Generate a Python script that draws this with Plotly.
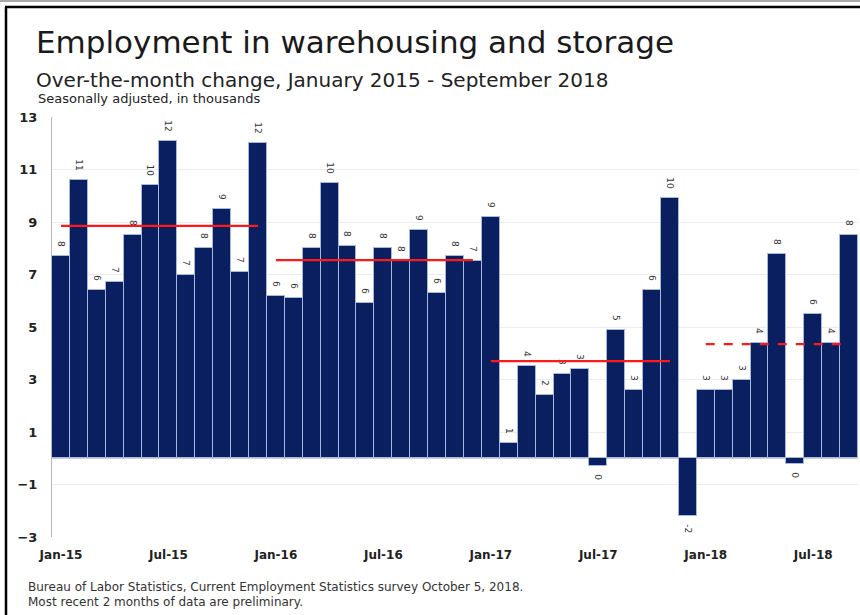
import plotly.graph_objects as go

months = [f"{m}-{y}" for y in ["15", "16", "17", "18"]
          for m in ["Jan", "Feb", "Mar", "Apr", "May", "Jun", "Jul", "Aug", "Sep", "Oct", "Nov", "Dec"]][:45]

values = [7.7, 10.6, 6.4, 6.7, 8.5, 10.4, 12.1, 7.0, 8.0, 9.5, 7.1, 12.0,
          6.2, 6.1, 8.0, 10.5, 8.1, 5.9, 8.0, 7.5, 8.7, 6.3, 7.7, 7.5,
          9.2, 0.6, 3.5, 2.4, 3.2, 3.4, -0.3, 4.9, 2.6, 6.4, 9.9, -2.2,
          2.6, 2.6, 3.0, 4.4, 7.8, -0.2, 5.5, 4.4, 8.5]
labels = [8, 11, 6, 7, 8, 10, 12, 7, 8, 9, 7, 12,
          6, 6, 8, 10, 8, 6, 8, 8, 9, 6, 8, 7,
          9, 1, 4, 2, 3, 3, 0, 5, 3, 6, 10, -2,
          3, 3, 3, 4, 8, 0, 6, 4, 8]

avg_values = [8.85, 7.55, 3.7, 4.35]
avg_start = ["Jan-15", "Jan-16", "Jan-17", "Jan-18"]
avg_end = ["Dec-15", "Dec-16", "Nov-17", "Sep-18"]
avg_dash = ["solid", "solid", "solid", "dash"]

xtick_labels = ["Jan-15", "Jul-15", "Jan-16", "Jul-16", "Jan-17", "Jul-17", "Jan-18", "Jul-18"]
ytick_vals = [-3, -1, 1, 3, 5, 7, 9, 11, 13]

FONT = "DejaVu Sans"
PAD = "\u00a0\u00a0"

bar_text = [(str(l) + PAD) if v >= 0 else (PAD + str(l)) for v, l in zip(values, labels)]

fig = go.Figure()
fig.add_trace(go.Bar(
    x=months, y=values,
    text=bar_text,
    textposition="outside", textangle=90,
    textfont=dict(family=FONT, size=9, color="#333333"),
    cliponaxis=False,
    marker=dict(color="#0a1f5f", line=dict(color="#a6b8e2", width=1)),
    showlegend=False, hoverinfo="skip",
))
for v, s, e, d in zip(avg_values, avg_start, avg_end, avg_dash):
    fig.add_trace(go.Scatter(
        x=[s, e], y=[v, v], mode="lines",
        line=dict(color="#ff1a1a", width=2.2, dash=d),
        showlegend=False, hoverinfo="skip",
    ))

fig.update_layout(
    width=860, height=615,
    margin=dict(l=52, r=2, t=117, b=78),
    paper_bgcolor="white", plot_bgcolor="white",
    bargap=0,
    font=dict(family=FONT, color="#222222"),
    xaxis=dict(
        type="category", categoryorder="array", categoryarray=months,
        range=[-0.5, 44.5],
        tickmode="array", tickvals=xtick_labels, ticktext=xtick_labels,
        tickfont=dict(family=FONT, size=12, color="#222222", weight="bold"),
        showgrid=False, showline=False, ticks="", ticklabelstandoff=9,
    ),
    yaxis=dict(
        range=[-3, 13], tickmode="array", tickvals=ytick_vals,
        tickfont=dict(family=FONT, size=13, color="#222222", weight="bold"),
        showgrid=True, gridcolor="#ececec", gridwidth=1,
        zeroline=True, zerolinecolor="#cfcfcf", zerolinewidth=1,
        showline=True, linecolor="#b8b8b8", linewidth=1,
        ticks="", ticklabelstandoff=11,
    ),
)

def px_x(px):
    return (px - 52) / 806

def px_y(py):
    return (537 - py) / 420

annots = [
    ("Employment in warehousing and storage", 34, 42, 31, "#1a1a1a"),
    ("Over-the-month change, January 2015 - September 2018", 34, 80, 20, "#222222"),
    ("Seasonally adjusted, in thousands", 36, 99, 13, "#222222"),
    ("Bureau of Labor Statistics, Current Employment Statistics survey October 5, 2018.", 26, 587, 12, "#333333"),
    ("Most recent 2 months of data are preliminary.", 26, 602, 12, "#333333"),
]
for t, x, y, s, c in annots:
    fig.add_annotation(
        text=t, xref="paper", yref="paper", x=px_x(x), y=px_y(y),
        xanchor="left", yanchor="middle", showarrow=False,
        font=dict(family=FONT, size=s, color=c),
    )

# frame
fig.add_shape(type="line", xref="paper", yref="paper",
              x0=px_x(5), x1=px_x(870), y0=px_y(7), y1=px_y(7),
              line=dict(color="black", width=2.5))
fig.add_shape(type="line", xref="paper", yref="paper",
              x0=px_x(0), x1=px_x(870), y0=px_y(1), y1=px_y(1),
              line=dict(color="#555555", width=1))
fig.add_shape(type="line", xref="paper", yref="paper",
              x0=px_x(6), x1=px_x(6), y0=px_y(7), y1=px_y(620),
              line=dict(color="black", width=2.5))

fig.write_html(
    "out.html",
    config={"displayModeBar": False},
    post_script="document.body.style.margin='0';document.body.style.overflow='hidden';",
)
